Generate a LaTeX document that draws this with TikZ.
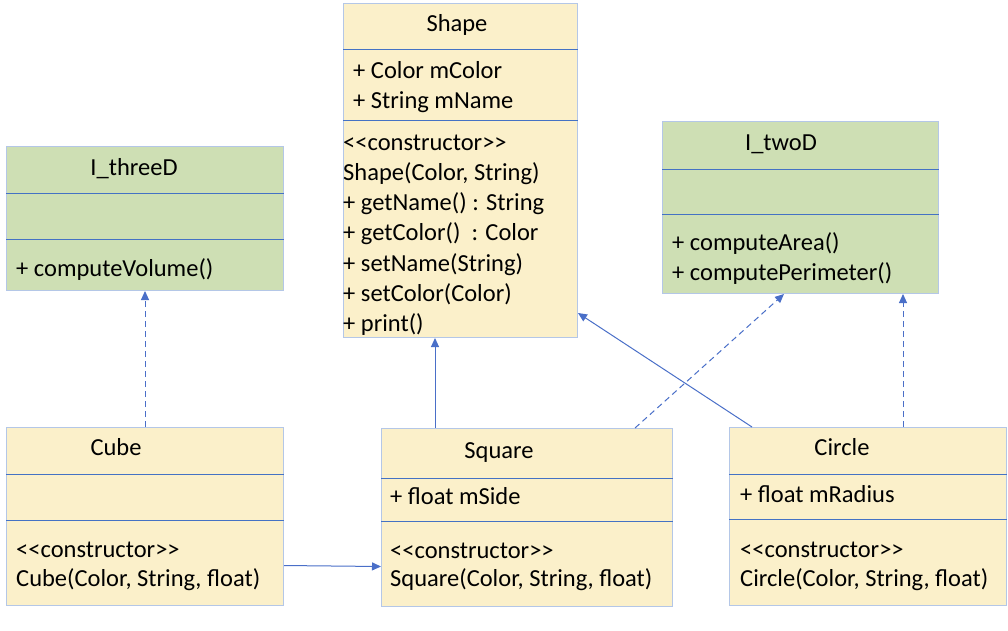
\documentclass[tikz,border=0pt]{standalone}
\usepackage{fontspec}
\setmainfont{Carlito}
\usetikzlibrary{arrows.meta}

\definecolor{clsfill}{HTML}{FBF0CA}
\definecolor{ifcfill}{HTML}{CEDFB4}
\definecolor{edgeblue}{HTML}{B4C7E7}
\definecolor{divblue}{HTML}{4472C4}
\definecolor{linkblue}{HTML}{4A6FC8}

\begin{document}
\begin{tikzpicture}[
    x=1pt, y=-1pt,
    font=\fontsize{24.5}{29}\selectfont,
    box/.style={rectangle, draw=edgeblue, line width=1pt, anchor=north west, inner sep=0pt},
    cls/.style={box, fill=clsfill},
    ifc/.style={box, fill=ifcfill},
    divider/.style={draw=divblue, line width=0.9pt},
    title/.style={anchor=base, inner sep=0pt},
    entry/.style={anchor=base west, inner sep=0pt},
    gen/.style={-{Triangle[length=9pt, width=8pt]}, draw=linkblue, line width=1pt},
    real/.style={gen, dash pattern=on 6pt off 4pt}
]
    \useasboundingbox (0,0) rectangle (1008,630);

    % class boxes
    \node[ifc, minimum width=277pt, minimum height=144pt] (threeD) at (6,146) {};
    \node[cls, minimum width=234pt, minimum height=334pt] (shape) at (343,3) {};
    \node[ifc, minimum width=276pt, minimum height=172pt] (twoD) at (662,121) {};
    \node[cls, minimum width=277pt, minimum height=178pt] (cube) at (6,427) {};
    \node[cls, minimum width=291pt, minimum height=178pt] (square) at (381,428) {};
    \node[cls, minimum width=277pt, minimum height=178pt] (circle) at (729,427) {};

    % compartment lines
    \draw[divider] ([yshift=-47pt]threeD.north west) -- ([yshift=-47pt]threeD.north east);
    \draw[divider] ([yshift=-93pt]threeD.north west) -- ([yshift=-93pt]threeD.north east);
    \draw[divider] ([yshift=-46pt]shape.north west) -- ([yshift=-46pt]shape.north east);
    \draw[divider] ([yshift=-117pt]shape.north west) -- ([yshift=-117pt]shape.north east);
    \draw[divider] ([yshift=-48pt]twoD.north west) -- ([yshift=-48pt]twoD.north east);
    \draw[divider] ([yshift=-93pt]twoD.north west) -- ([yshift=-93pt]twoD.north east);
    \draw[divider] ([yshift=-47pt]cube.north west) -- ([yshift=-47pt]cube.north east);
    \draw[divider] ([yshift=-93pt]cube.north west) -- ([yshift=-93pt]cube.north east);
    \draw[divider] ([yshift=-50pt]square.north west) -- ([yshift=-50pt]square.north east);
    \draw[divider] ([yshift=-93pt]square.north west) -- ([yshift=-93pt]square.north east);
    \draw[divider] ([yshift=-47pt]circle.north west) -- ([yshift=-47pt]circle.north east);
    \draw[divider] ([yshift=-92pt]circle.north west) -- ([yshift=-92pt]circle.north east);

    % I_threeD
    \node[title] (threeDT) at (134,175) {I\_threeD};
    \node[entry] (threeDM) at (16,276) {+ computeVolume()};

    % Shape
    \node[title] (shapeT) at (457,31) {Shape};
    \node[entry] (shapeA1) at (353,78) {+ Color mColor};
    \node[entry] (shapeA2) at (353,108) {+ String mName};
    \foreach \txt [count=\i] in {<{}<constructor>{}>, {Shape(Color, String)}, {+ getName() : String},
        {+ getColor()\ \ : Color}, {+ setName(String)}, {+ setColor(Color)}, {+ print()}}
        \node[entry] (shapeM\i) at (343,{150+30.3*(\i-1)}) {\txt};

    % I_twoD
    \node[title] (twoDT) at (781,150) {I\_twoD};
    \node[entry] (twoDM1) at (672,250) {+ computeArea()};
    \node[entry] (twoDM2) at (672,280) {+ computePerimeter()};

    % Cube
    \node[title] (cubeT) at (116,455) {Cube};
    \node[entry] (cubeM1) at (16,557) {<{}<constructor>{}>};
    \node[entry] (cubeM2) at (16,586) {Cube(Color, String, float)};

    % Square
    \node[title] (squareT) at (499,458) {Square};
    \node[entry] (squareA) at (390,504) {+ float mSide};
    \node[entry] (squareM1) at (390,558) {<{}<constructor>{}>};
    \node[entry] (squareM2) at (390,586) {Square(Color, String, float)};

    % Circle
    \node[title] (circleT) at (842,455) {Circle};
    \node[entry] (circleA) at (740,502) {+ float mRadius};
    \node[entry] (circleM1) at (740,557) {<{}<constructor>{}>};
    \node[entry] (circleM2) at (740,586) {Circle(Color, String, float)};

    % relations
    \draw[real] (cube.north) -- (threeD.south);
    \draw[gen] ([xshift=54pt]square.north west) -- ([xshift=54pt]square.north west |- shape.south);
    \draw[real] ([xshift=-38pt]square.north east) -- ([xshift=122pt]twoD.south west);
    \draw[gen] ([xshift=23pt]circle.north west) -- ([yshift=25pt]shape.south east);
    \draw[real] ([xshift=-104pt]circle.north east) -- ([xshift=-104pt]circle.north east |- twoD.south);
    \draw[gen] ([yshift=-49pt]cube.east) -- ([yshift=-49pt]square.west);
\end{tikzpicture}
\end{document}
